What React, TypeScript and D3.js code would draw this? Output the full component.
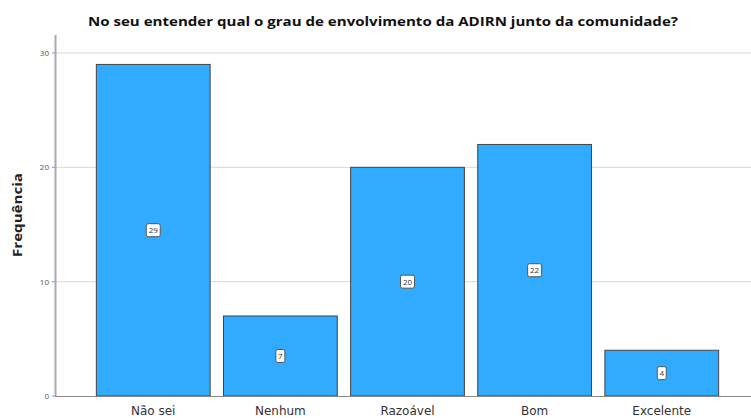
import React from "react";
import * as d3 from "d3";

const categories = ["Não sei", "Nenhum", "Razoável", "Bom", "Excelente"];
const values = [29, 7, 20, 22, 4];
const yTicks = [0, 10, 20, 30];
const title = "No seu entender qual o grau de envolvimento da ADIRN junto da comunidade?";
const yLabel = "Frequência";

export default function App() {
  const W = 751, H = 418;
  const x = d3.scaleBand<string>().domain(categories).range([90, 725]).paddingInner(0.105).paddingOuter(0.05);
  const y = d3.scaleLinear().domain([0, 30]).range([396, 53]);
  const font = "'Open Sans', 'Noto Sans', sans-serif";
  return (
    <svg width={W} height={H} style={{ position: "absolute", left: 0, top: 0, background: "#fff" }} fontFamily={font}>
      <rect x={0} y={0} width={W} height={H} fill="#fff" />
      <text x={383} y={26} textAnchor="middle" fontSize={12.5} fontWeight="bold" fill="#111" textLength={590} lengthAdjust="spacingAndGlyphs">{title}</text>
      {yTicks.filter(t => t > 0).map(t => (
        <line key={t} x1={56} x2={W} y1={y(t)} y2={y(t)} stroke="#d9d9d9" strokeWidth={1} />
      ))}
      {yTicks.map(t => (
        <g key={"t" + t}>
          <line x1={52} x2={56} y1={y(t)} y2={y(t)} stroke="#999" />
          <text x={49} y={y(t) + 3} textAnchor="end" fontSize={8} fill="#555">{t}</text>
        </g>
      ))}
      <line x1={55.5} x2={55.5} y1={35} y2={396} stroke="#aaa" strokeWidth={2} />
      <text transform={`translate(22,215) rotate(-90)`} textAnchor="middle" fontSize={11.5} fontWeight="bold" fill="#222" textLength={84} lengthAdjust="spacingAndGlyphs">{yLabel}</text>
      {categories.map((c, i) => {
        const bx = x(c)!;
        const bw = x.bandwidth();
        const v = values[i];
        const cy = (y(v) + y(0)) / 2;
        const lbl = String(v);
        const boxW = lbl.length > 1 ? 14 : 9;
        return (
          <g key={c}>
            <rect x={bx} y={y(v)} width={bw} height={y(0) - y(v)} fill="#30abff" stroke="#444" strokeWidth={1} />
            <rect x={bx + bw / 2 - boxW / 2} y={cy - 6.5} width={boxW} height={13} rx={2} fill="#fff" stroke="#555" strokeWidth={1} />
            <text x={bx + bw / 2} y={cy + 3} textAnchor="middle" fontSize={8} fill="#333">{lbl}</text>
            <text x={bx + bw / 2} y={415} textAnchor="middle" fontSize={12} fontFamily="'DejaVu Sans', sans-serif" fill="#333">{c}</text>
          </g>
        );
      })}
      <line x1={55} x2={W} y1={396.5} y2={396.5} stroke="#888" strokeWidth={1} />
    </svg>
  );
}
